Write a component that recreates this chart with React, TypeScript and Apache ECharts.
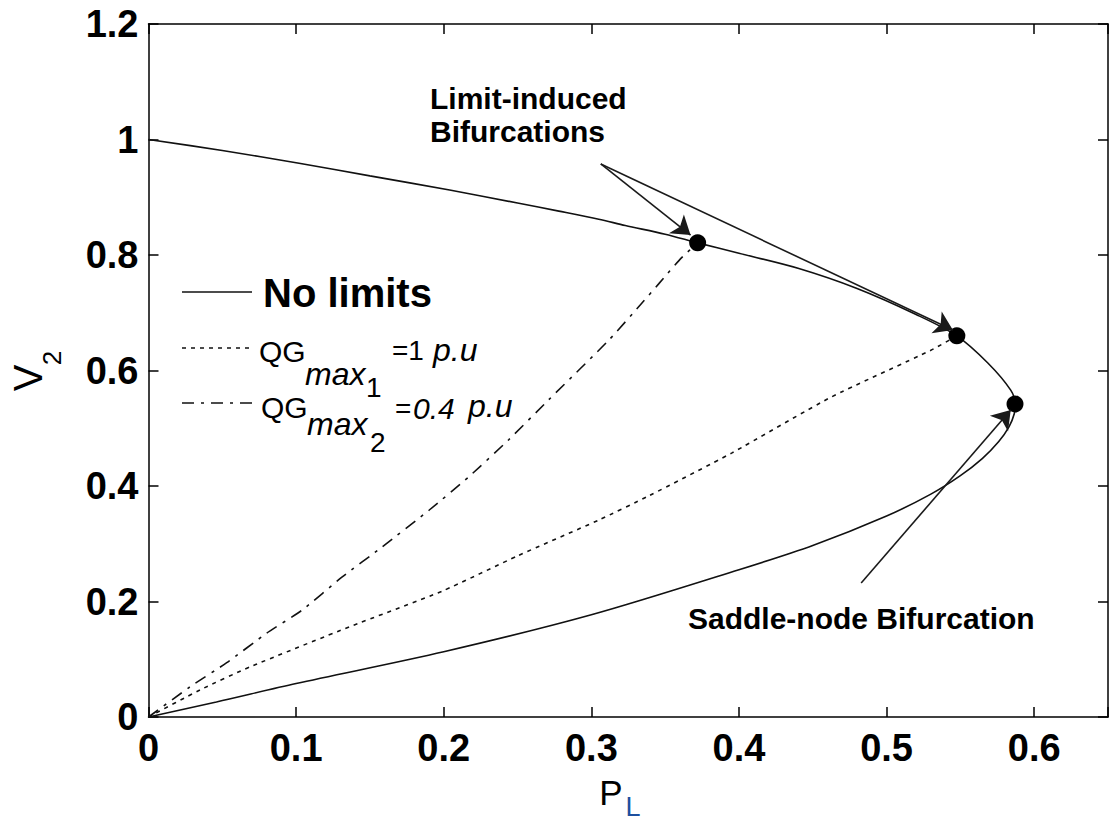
import React, { useEffect, useRef } from "react";
import * as echarts from "echarts";

// ---- data (P_L, V_2) ----
const noLimitsCurve: [number, number][] = [
  [0, 1.0], [0.05, 0.981], [0.102, 0.959], [0.15, 0.937], [0.204, 0.9125],
  [0.25, 0.89], [0.278, 0.876], [0.305, 0.862], [0.323, 0.851], [0.35, 0.836],
  [0.372, 0.821], [0.4, 0.803], [0.44, 0.777], [0.48, 0.742], [0.52, 0.697],
  [0.5476, 0.66], [0.5686, 0.613], [0.5841, 0.566], [0.587, 0.542],
  [0.5865, 0.525], [0.583, 0.503], [0.576, 0.477], [0.565, 0.448], [0.55, 0.418],
  [0.53, 0.386], [0.5, 0.348], [0.45, 0.297], [0.4, 0.255], [0.3, 0.177],
  [0.2, 0.113], [0.1, 0.058], [0.046, 0.026], [0, 0],
];
const qgMax1Curve: [number, number][] = [
  [0, 0], [0.035, 0.047], [0.069, 0.087], [0.136, 0.156], [0.199, 0.218],
  [0.25, 0.279], [0.305, 0.341], [0.339, 0.383], [0.395, 0.457], [0.4625, 0.554],
  [0.53, 0.635], [0.5476, 0.66],
];
const qgMax2Curve: [number, number][] = [
  [0, 0], [0.028, 0.052], [0.053, 0.094], [0.08, 0.145], [0.104, 0.185],
  [0.131, 0.242], [0.158, 0.294], [0.19, 0.358], [0.217, 0.416], [0.244, 0.48],
  [0.271, 0.549], [0.312, 0.653], [0.334, 0.716], [0.3456, 0.75], [0.361, 0.795],
  [0.372, 0.821],
];
const bifurcationPoints: [number, number][] = [
  [0.372, 0.821], [0.5476, 0.66], [0.587, 0.542],
];
const arrowStarts: [number, number][] = [
  [0.3064, 0.9576], [0.3064, 0.9576], [0.4828, 0.232],
];
const arrowEnds: [number, number][] = [
  [0.3672, 0.8346], [0.5449, 0.67], [0.5841, 0.5316],
];
const xTicks = { min: 0, max: 0.65, interval: 0.1 };
const yTicks = { min: 0, max: 1.2, interval: 0.2 };

const FONT = "'Liberation Sans', Arial, Helvetica, sans-serif";
const INK = "#111";

function txt(text: string, x: number, y: number, size: number, opts: any = {}) {
  return {
    type: "text",
    x,
    y,
    silent: true,
    z: 10,
    style: {
      text,
      fontSize: size,
      fontFamily: FONT,
      fontWeight: opts.bold ? "bold" : "normal",
      fontStyle: opts.italic ? "italic" : "normal",
      fill: opts.color || "#000",
      align: opts.align || "left",
      verticalAlign: "middle",
    },
    rotation: opts.rotation || 0,
  };
}

export default function App() {
  const ref = useRef<HTMLDivElement>(null);
  useEffect(() => {
    if (!ref.current) return;
    const chart = echarts.init(ref.current, undefined, { renderer: "svg" });
    const axisLine = { show: true, onZero: false, lineStyle: { color: "#000", width: 1.5 } };
    const axisTick = { show: true, inside: true, length: 10, lineStyle: { color: "#000", width: 1.5 } };
    const labelStyle = { fontSize: 38, fontWeight: "bold", color: "#000", fontFamily: FONT };
    const fmtX = (v: number) => {
      const r = Math.round(v * 10) / 10;
      return Math.abs(v - r) > 1e-9 ? "" : String(r);
    };
    const lineStyleBase = { color: INK, width: 1.6 };
    chart.setOption({
      animation: false,
      backgroundColor: "#fff",
      grid: { left: 148.5, top: 24, right: 1, bottom: 108 },
      xAxis: [
        {
          type: "value", ...xTicks, position: "bottom", axisLine, axisTick,
          splitLine: { show: false },
          axisLabel: { ...labelStyle, margin: 12, formatter: fmtX },
        },
        {
          type: "value", ...xTicks, position: "top", axisLine, axisTick,
          splitLine: { show: false }, axisLabel: { show: false },
        },
      ],
      yAxis: [
        {
          type: "value", ...yTicks, position: "left", axisLine, axisTick,
          splitLine: { show: false },
          axisLabel: { ...labelStyle, margin: 10 },
        },
        {
          type: "value", ...yTicks, position: "right", axisLine, axisTick,
          splitLine: { show: false }, axisLabel: { show: false },
        },
      ],
      series: [
        {
          type: "line", name: "No limits", data: noLimitsCurve, showSymbol: false,
          smooth: 0.3, lineStyle: { ...lineStyleBase, type: "solid" }, silent: true,
        },
        {
          type: "line", name: "QGmax1", data: qgMax1Curve, showSymbol: false,
          smooth: 0.2, lineStyle: { ...lineStyleBase, type: [4, 5] }, silent: true,
        },
        {
          type: "line", name: "QGmax2", data: qgMax2Curve, showSymbol: false,
          smooth: 0.2, lineStyle: { ...lineStyleBase, type: [12, 7, 3, 7] }, silent: true,
        },
        {
          type: "scatter", data: bifurcationPoints, symbol: "circle", symbolSize: 17,
          itemStyle: { color: "#000", opacity: 1 }, silent: true, z: 6,
        },
        {
          type: "lines", coordinateSystem: "cartesian2d", xAxisIndex: 0, yAxisIndex: 0,
          symbol: ["none", "arrow"], symbolSize: 18, silent: true, z: 7,
          lineStyle: { color: "#1a1a1a", width: 1.6, opacity: 1, curveness: 0 },
          data: arrowStarts.map((s, i) => ({ coords: [s, arrowEnds[i]] })),
        },
      ],
      graphic: [
        // annotations
        txt("Limit-induced", 430, 98, 30, { bold: true }),
        txt("Bifurcations", 430, 131, 30, { bold: true }),
        txt("Saddle-node Bifurcation", 688, 618, 30, { bold: true }),
        // legend
        { type: "line", silent: true, z: 10, shape: { x1: 182, y1: 292, x2: 252, y2: 292 }, style: { stroke: INK, lineWidth: 1.6 } },
        txt("No limits", 263, 293, 40, { bold: true }),
        { type: "line", silent: true, z: 10, shape: { x1: 182, y1: 348, x2: 250, y2: 348 }, style: { stroke: INK, lineWidth: 1.6, lineDash: [4, 5] } },
        txt("QG", 259, 351, 30),
        txt("max", 305, 374, 32, { italic: true }),
        txt("1", 366, 387, 28),
        txt("=1", 392, 350, 28),
        txt("p.u", 433, 350, 32, { italic: true }),
        { type: "line", silent: true, z: 10, shape: { x1: 182, y1: 403, x2: 252, y2: 403 }, style: { stroke: INK, lineWidth: 1.6, lineDash: [12, 7, 3, 7] } },
        txt("QG", 261, 407, 30),
        txt("max", 307, 424, 32, { italic: true }),
        txt("2", 370, 442, 28),
        txt("=", 395, 408, 28),
        txt("0.4", 413, 408, 30, { italic: true }),
        txt("p.u", 468, 406, 32, { italic: true }),
        // axis names
        txt("V", 28, 378, 40, { rotation: Math.PI / 2, align: "center" }),
        txt("2", 52, 358, 26, { rotation: Math.PI / 2, align: "center" }),
        txt("P", 611, 792, 35, { align: "center" }),
        txt("L", 633, 807, 27, { align: "center", color: "#1d4f9e" }),
      ],
    });
    return () => chart.dispose();
  }, []);
  return (
    <div
      ref={ref}
      style={{ position: "fixed", left: 0, top: 0, width: 1111, height: 825, background: "#fff" }}
    />
  );
}
